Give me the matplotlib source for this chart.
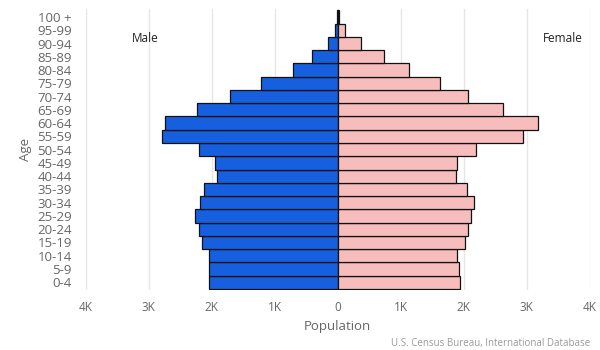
import numpy as np
import matplotlib.pyplot as plt
from matplotlib.ticker import FuncFormatter

plt.rcParams['font.family'] = ['Open Sans', 'DejaVu Sans']

# age groups, youngest first
ages = ['0-4', '5-9', '10-14', '15-19', '20-24', '25-29', '30-34', '35-39',
        '40-44', '45-49', '50-54', '55-59', '60-64', '65-69', '70-74',
        '75-79', '80-84', '85-89', '90-94', '95-99', '100 +']

# population (people)
male = [2050, 2050, 2050, 2160, 2200, 2270, 2180, 2130, 1920, 1950, 2200,
        2790, 2740, 2240, 1710, 1220, 710, 410, 160, 50, 10]
female = [1940, 1920, 1900, 2020, 2060, 2110, 2160, 2050, 1870, 1900, 2190,
          2940, 3170, 2630, 2060, 1620, 1130, 730, 370, 110, 25]

male_color = '#165fde'
female_color = '#f7bdbd'
text_gray = '#666666'

fig = plt.figure(figsize=(6, 3.5), dpi=100)
ax = fig.add_axes([0.143, 0.171, 0.84, 0.803])

y = np.arange(len(ages))
ax.barh(y, -np.array(male), height=1.0, color=male_color,
        edgecolor='#111111', linewidth=0.9, zorder=3)
ax.barh(y, female, height=1.0, color=female_color,
        edgecolor='#111111', linewidth=0.9, zorder=3)

ax.set_xlim(-4000, 4000)
ax.set_ylim(-0.6, len(ages) - 0.4)
ax.set_xticks(np.arange(-4000, 4001, 1000))
ax.xaxis.set_major_formatter(FuncFormatter(
    lambda v, p: '0' if v == 0 else '%dK' % abs(v / 1000)))
ax.set_yticks(y)
ax.set_yticklabels(ages)

ax.grid(axis='x', color='#e6e6e6', linewidth=1, zorder=0)
for s in ax.spines.values():
    s.set_visible(False)
ax.tick_params(length=0, colors=text_gray)
ax.tick_params(axis='x', pad=8, labelsize=8.5)
ax.tick_params(axis='y', pad=10, labelsize=9.5)

ax.set_xlabel('Population', fontsize=9.5, color=text_gray, labelpad=4)
ax.set_ylabel('Age', fontsize=9.5, color=text_gray, labelpad=4)

fig.text(0.22, 0.89, 'Male', fontsize=8.5, color='#222222',
         ha='left', va='center')
fig.text(0.972, 0.89, 'Female', fontsize=8.5, color='#222222',
         ha='right', va='center')
fig.text(0.983, 0.012, 'U.S. Census Bureau, International Database',
         fontsize=7, color='#999999', ha='right')

fig.savefig('out.png', dpi=100)
